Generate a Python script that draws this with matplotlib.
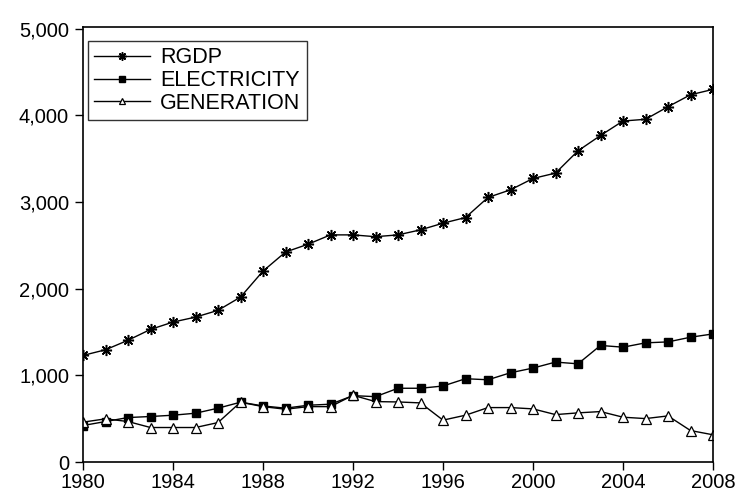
import matplotlib
matplotlib.use("Agg")
import matplotlib.pyplot as plt
from matplotlib.ticker import FuncFormatter

plt.rcParams['font.family'] = ['Liberation Sans', 'DejaVu Sans']

years = list(range(1980, 2009))
rgdp = [1230, 1295, 1405, 1530, 1615, 1672, 1750, 1903, 2203, 2423,
        2513, 2621, 2621, 2600, 2621, 2679, 2756, 2821, 3053, 3141,
        3272, 3334, 3591, 3768, 3935, 3955, 4100, 4238, 4300]
electricity = [421, 467, 513, 525, 540, 563, 621, 690, 647, 621,
               655, 667, 766, 754, 851, 851, 877, 961, 949, 1030,
               1084, 1153, 1133, 1345, 1325, 1375, 1386, 1440, 1478]
generation = [460, 498, 467, 398, 398, 398, 455, 690, 639, 609,
              639, 639, 770, 697, 693, 682, 483, 540, 628, 628,
              613, 547, 567, 582, 517, 501, 532, 363, 314]
xticks = [1980, 1984, 1988, 1992, 1996, 2000, 2004, 2008]
yticks = [0, 1000, 2000, 3000, 4000, 5000]

W, H = 738, 491
fig = plt.figure(figsize=(W / 100, H / 100), dpi=100)
ax = fig.add_axes([83 / W, 1 - 462 / H, (713 - 83) / W, (462 - 27) / H])

ax.plot(years, rgdp, color='black', lw=1.0, marker=(8, 2, 0), ms=8, mew=1.1,
        label='RGDP')
ax.plot(years, electricity, color='black', lw=1.0, marker='s', ms=6,
        mfc='black', mec='black', label='ELECTRICITY')
ax.plot(years, generation, color='black', lw=1.0, marker='^', ms=6.5,
        mfc='white', mec='black', mew=0.9, label='GENERATION')

ax.set_xlim(1980, 2008)
ax.set_ylim(0, 5020)
ax.set_xticks(xticks)
ax.set_yticks(yticks)
ax.yaxis.set_major_formatter(FuncFormatter(lambda v, p: f"{int(v):,}"))
ax.tick_params(axis='both', direction='out', length=6, width=1.0,
               labelsize=14.5, colors='black')
ax.tick_params(axis='y', pad=4)
ax.tick_params(axis='x', pad=2)
for s in ax.spines.values():
    s.set_linewidth(1.2)

leg = ax.legend(loc='upper left', bbox_to_anchor=(88 / W, 1 - 41 / H),
                bbox_transform=fig.transFigure, borderaxespad=0,
                fontsize=15.5, frameon=True, fancybox=False,
                edgecolor='black', handlelength=2.6, handletextpad=0.45,
                labelspacing=0.08, borderpad=0.3, markerscale=0.75)
leg.get_frame().set_linewidth(1.0)

fig.savefig('out.png', dpi=100)
